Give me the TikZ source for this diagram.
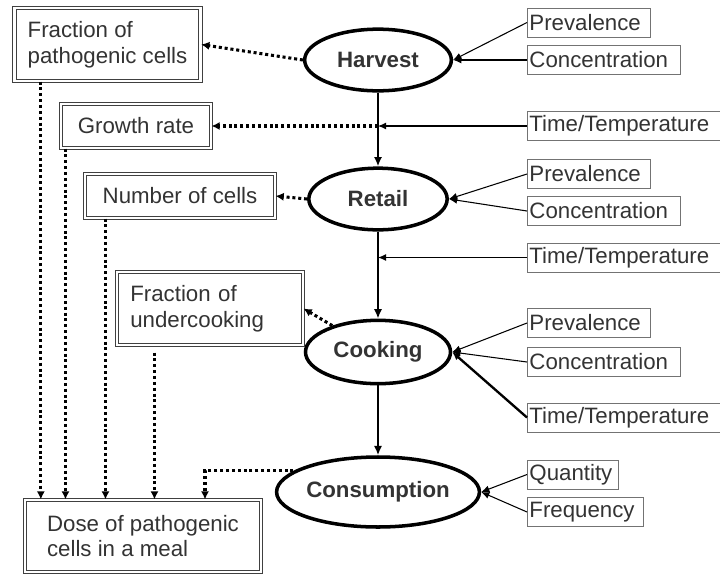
\documentclass[tikz,border=0pt]{standalone}
\usepackage{fontspec}
\setmainfont{Liberation Sans}
\usetikzlibrary{shapes.geometric,arrows.meta,calc}
\begin{document}
\begin{tikzpicture}[x=0.03cm,y=-0.03cm,
  every node/.style={font=\fontsize{19}{22}\selectfont, text=black!80},
  stage/.style={ellipse, draw=black, line width=3pt, inner sep=0pt,
    font=\fontsize{19}{22}\selectfont\bfseries},
  result/.style={draw=black!75, double, double distance=2pt, line width=0.9pt,
    align=left, inner xsep=0.4cm, inner ysep=0pt},
  input/.style={draw=black!55, line width=0.8pt, anchor=west, align=left,
    inner xsep=0.06cm, inner ysep=0pt, minimum height=0.87cm},
  flow/.style={-{Latex[length=8pt,width=7pt]}, line width=2pt},
  feed/.style={-{Latex[length=7pt,width=6pt]}, line width=0.9pt},
  dots/.style={-{Latex[length=7pt,width=7pt]}, line width=2.6pt, dash pattern=on 2.6pt off 2.4pt}]
\useasboundingbox (0,0) rectangle (720,576);

% chain of stages
\node[stage, minimum width=4.4cm, minimum height=1.85cm] (harvest) at (378,60) {Harvest};
\node[stage, minimum width=4.15cm, minimum height=1.85cm] (retail) at (378,199) {Retail};
\node[stage, minimum width=4.35cm, minimum height=1.9cm] (cooking) at (378,352) {Cooking};
\node[stage, minimum width=6.0cm, minimum height=2.1cm] (consumption) at (378,492) {Consumption};

% outputs on the left
\node[result, minimum width=5.55cm, minimum height=2.19cm] (frac) at (107.5,44.5) {Fraction of\\pathogenic cells};
\node[result, minimum width=4.5cm, minimum height=1.32cm] (growth) at (136,126) {Growth rate};
\node[result, minimum width=5.7cm, minimum height=1.32cm] (number) at (180,196) {Number of cells};
\node[result, text width=4.78cm, minimum height=2.19cm] (under) at (210,308.5) {Fraction of\\undercooking};
\node[result, minimum width=7.08cm, minimum height=2.16cm] (dose) at (143,536) {Dose of pathogenic\\cells in a meal};

% inputs on the right
\node[input, text width=3.57cm] (prev1) at (527,22.5) {Prevalence};
\node[input, text width=4.47cm] (conc1) at (527,60) {Concentration};
\node[input, text width=5.67cm] (tt1) at (527,126) {Time/Temperature};
\node[input, text width=3.57cm] (prev2) at (527,174) {Prevalence};
\node[input, text width=4.47cm] (conc2) at (527,211) {Concentration};
\node[input, text width=5.67cm] (tt2) at (527,257.5) {Time/Temperature};
\node[input, text width=3.57cm] (prev3) at (527,323) {Prevalence};
\node[input, text width=4.47cm] (conc3) at (527,362) {Concentration};
\node[input, text width=5.67cm] (tt3) at (527,417.5) {Time/Temperature};
\node[input, text width=2.61cm] (quant) at (527,474.5) {Quantity};
\node[input, text width=3.36cm] (freq) at (527,512) {Frequency};

\draw[flow] (harvest) -- (retail);
\draw[flow] (retail) -- (cooking);
\draw[flow] (cooking) -- (consumption);

\draw[feed] (prev1.west) -- (harvest.east);
\draw[feed, line width=1.6pt] (conc1.west) -- (harvest.east);
\draw[feed] (tt1.west) -- (tt1.west -| harvest.south);
\draw[feed] (prev2.west) -- (retail.east);
\draw[feed] (conc2.west) -- (retail.east);
\draw[feed] (tt2.west) -- (tt2.west -| retail.south);
\draw[feed] (prev3.west) -- (cooking.east);
\draw[feed] (conc3.west) -- (cooking.east);
\draw[feed, line width=2pt] (tt3.west) -- (cooking.east);
\draw[feed] (quant.west) -- (consumption.east);
\draw[feed] (freq.west) -- (consumption.east);

\draw[dots] (harvest.west) -- (frac.east);
\draw[dots] (tt1.west -| harvest.south) -- (growth.east);
\draw[dots] (retail.west) -- (number.east);
\draw[dots] (cooking.150) -- (under.east);
\draw[dots] (consumption.166) -| ($(dose.north)+(62,0)$);

\draw[dots] ($(frac.south west)+(27,0)$) coordinate (f1) -- (f1 |- dose.north);
\draw[dots] ($(growth.south west)+(5,0)$) coordinate (g1) -- (g1 |- dose.north);
\draw[dots] ($(number.south west)+(21,0)$) coordinate (n1) -- (n1 |- dose.north);
\draw[dots] ($(under.south west)+(38,7)$) coordinate (u1) -- (u1 |- dose.north);
\end{tikzpicture}
\end{document}
